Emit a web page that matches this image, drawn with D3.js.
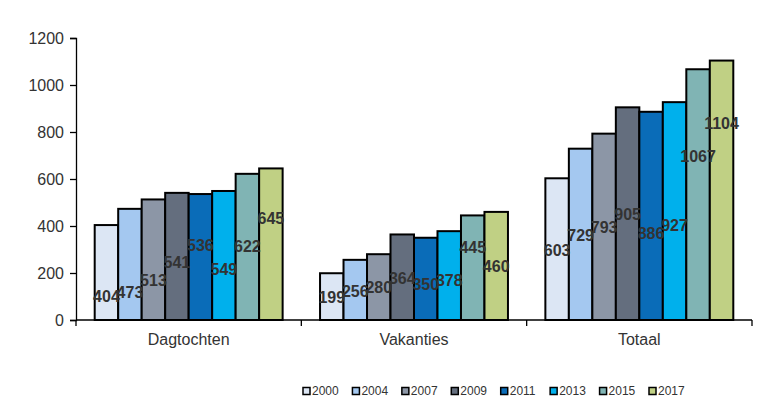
<!DOCTYPE html>
<html><head><meta charset="utf-8">
<script src="https://cdn.jsdelivr.net/npm/d3@7"></script>
<style>body{margin:0;background:#fff}svg{display:block}</style>
</head><body>
<svg id="c" width="774" height="418"></svg>
<script>
const categories = ["Dagtochten", "Vakanties", "Totaal"];
const years = ["2000", "2004", "2007", "2009", "2011", "2013", "2015", "2017"];
const dagtochten = [404, 473, 513, 541, 536, 549, 622, 645];
const vakanties = [199, 256, 280, 364, 350, 378, 445, 460];
const totaal = [603, 729, 793, 905, 886, 927, 1067, 1104];
// value-unit anchor at which each data label sits (as in the original)
const dagLabelAt = [102, 119, 170, 243, 319, 217, 315, 434];
const vakLabelAt = [98, 123, 140, 179, 153, 170, 311, 226];
const totLabelAt = [298, 362, 396, 451, 370, 404, 698, 838];
const yTicks = [0, 200, 400, 600, 800, 1000, 1200];
const colors = ["#dce6f4", "#a4c8f0", "#8c96a6", "#646e7e", "#0a6cb8", "#00b0ec", "#80b4b4", "#c0d084"];

(function () {
const series = [dagtochten, vakanties, totaal];
const labelAt = [dagLabelAt, vakLabelAt, totLabelAt];

const svg = d3.select("#c");
const mLeft = 76, mRight = 752, mTop = 38, mBottom = 320;
const x0 = d3.scaleBand().domain(categories).range([mLeft, mRight]).padding(0);
const x1 = d3.scaleBand().domain(years)
  .range([x0.bandwidth() * 0.083, x0.bandwidth() * 0.917]).padding(0);
const y = d3.scaleLinear().domain([0, 1200]).range([mBottom, mTop]);
const color = d3.scaleOrdinal().domain(years).range(colors);

const font = "'Liberation Sans', Arial, sans-serif";

// bars
const g = svg.append("g");
categories.forEach((cat, ci) => {
  const grp = g.append("g").attr("transform", `translate(${x0(cat)},0)`);
  grp.selectAll("rect").data(years.map((yr, i) => ({yr, v: series[ci][i]})))
    .join("rect")
    .attr("x", d => x1(d.yr))
    .attr("y", d => y(d.v))
    .attr("width", x1.bandwidth())
    .attr("height", d => y(0) - y(d.v))
    .attr("fill", d => color(d.yr))
    .attr("stroke", "#000")
    .attr("stroke-width", 2);
});

// axes
const yAxis = d3.axisLeft(y).tickValues(yTicks).tickSize(6).tickPadding(6).tickFormat(d3.format("d"));
const ya = svg.append("g").attr("transform", `translate(${mLeft},0)`).call(yAxis);
ya.select(".domain").attr("stroke", "#000").attr("stroke-width", 1.3);
ya.selectAll(".tick line").attr("stroke", "#000").attr("stroke-width", 1.3);
ya.selectAll("text").attr("font-family", font).attr("font-size", 16).attr("fill", "#333");

const xa = svg.append("g").attr("transform", `translate(0,${mBottom})`);
xa.append("line").attr("x1", mLeft).attr("x2", mRight).attr("stroke", "#000").attr("stroke-width", 1.5);
const bounds = categories.map(c => x0(c)).concat([mRight]);
xa.selectAll("line.t").data(bounds).join("line").attr("class", "t")
  .attr("x1", d => d).attr("x2", d => d).attr("y1", 0).attr("y2", 6)
  .attr("stroke", "#000").attr("stroke-width", 1.3);
xa.selectAll("text").data(categories).join("text")
  .attr("x", d => x0(d) + x0.bandwidth() / 2)
  .attr("y", 25)
  .attr("text-anchor", "middle")
  .attr("font-family", font).attr("font-size", 16).attr("fill", "#333")
  .text(d => d);

// data labels
categories.forEach((cat, ci) => {
  svg.append("g").selectAll("text").data(years.map((yr, i) => ({yr, v: series[ci][i], at: labelAt[ci][i]})))
    .join("text")
    .attr("x", d => x0(cat) + x1(d.yr) + x1.bandwidth() / 2)
    .attr("y", d => y(d.at))
    .attr("dy", "0.35em")
    .attr("text-anchor", "middle")
    .attr("font-family", font).attr("font-size", 16).attr("font-weight", "bold")
    .attr("fill", "#333")
    .text(d => d.v);
});

// legend
const lg = svg.append("g");
const lx = d3.scalePoint().domain(years).range([303, 649]);
years.forEach(yr => {
  const it = lg.append("g").attr("transform", `translate(${lx(yr)},391)`);
  it.append("rect").attr("x", 0).attr("y", -3.5).attr("width", 7).attr("height", 7)
    .attr("fill", color(yr)).attr("stroke", "#000").attr("stroke-width", 1.5);
  it.append("text").attr("x", 9).attr("y", 0).attr("dy", "0.35em")
    .attr("font-family", font).attr("font-size", 12).attr("fill", "#333").text(yr);
});
})();
</script>
</body></html>
